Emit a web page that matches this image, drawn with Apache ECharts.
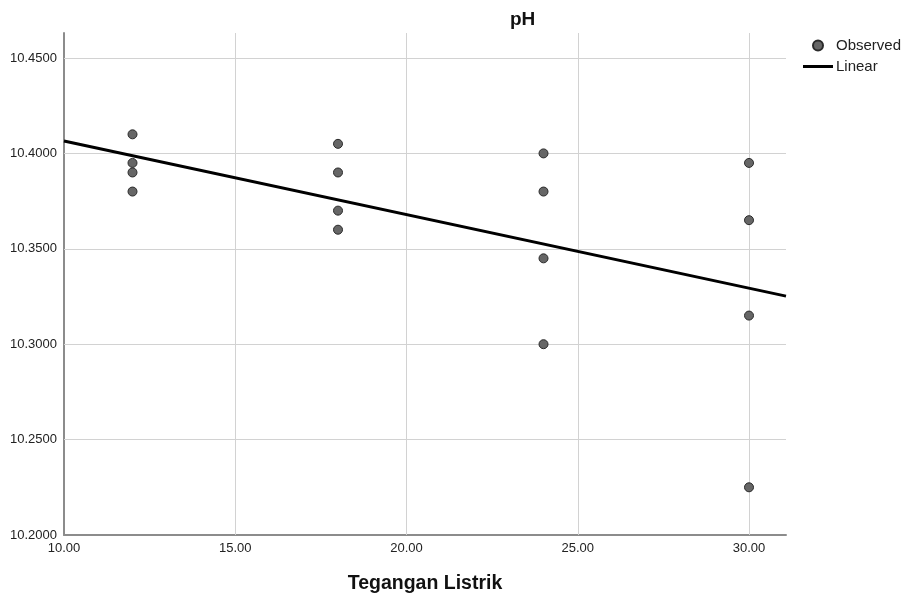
<!DOCTYPE html>
<html>
<head>
<meta charset="utf-8">
<title>pH</title>
<script src="https://cdn.jsdelivr.net/npm/echarts@6/dist/echarts.min.js"></script>
<style>
  html, body { margin: 0; padding: 0; background: #ffffff; }
  #chart { width: 907px; height: 599px; }
</style>
</head>
<body>
<div id="chart"></div>
<script>
// Observations: applied voltage (Tegangan Listrik) and measured pH
const teganganListrik = [12, 12, 12, 12, 18, 18, 18, 18, 24, 24, 24, 24, 30, 30, 30, 30];
const pHValues = [10.410, 10.395, 10.390, 10.380,
                  10.405, 10.390, 10.370, 10.360,
                  10.400, 10.380, 10.345, 10.300,
                  10.395, 10.365, 10.315, 10.225];

// Axis ranges and gridline positions
const xRange = [10, 31.08];
const yRange = [10.2, 10.4631];
const xTicks = [15, 20, 25, 30];
const yTicks = [10.25, 10.30, 10.35, 10.40, 10.45];

// Ordinary least-squares fit of pH on voltage
function linearFit(xs, ys) {
  const n = xs.length;
  const mx = xs.reduce((a, b) => a + b, 0) / n;
  const my = ys.reduce((a, b) => a + b, 0) / n;
  let sxy = 0, sxx = 0;
  for (let i = 0; i < n; i++) {
    sxy += (xs[i] - mx) * (ys[i] - my);
    sxx += (xs[i] - mx) * (xs[i] - mx);
  }
  const slope = sxy / sxx;
  return { slope, intercept: my - slope * mx };
}
const fit = linearFit(teganganListrik, pHValues);
const fitLine = xRange.map(x => [x, fit.intercept + fit.slope * x]);

const observed = teganganListrik.map((x, i) => [x, pHValues[i]]);

const FONT = "'Liberation Sans', Arial, Helvetica, sans-serif";
const axisLineStyle = { color: '#8c8c8c', width: 2 };
const gridLineStyle = { color: '#d2d2d2', width: 1, type: 'solid' };
// plain horizontal bar for the fit-line legend key (the bare moves pin a 30x10 box)
const LINE_ICON = 'path://M0,0 M30,10 M0,3.5 L30,3.5 L30,6.5 L0,6.5 Z';

const chart = echarts.init(document.getElementById('chart'), null, { renderer: 'canvas' });
chart.setOption({
  animation: false,
  backgroundColor: '#ffffff',
  textStyle: { fontFamily: FONT },
  title: {
    text: 'pH',
    left: 505,
    top: 5,
    textStyle: { fontFamily: FONT, fontSize: 19, fontWeight: 'bold', color: '#111' }
  },
  legend: {
    orient: 'vertical',
    left: 803,
    top: 38,
    padding: 0,
    itemGap: 6,
    itemWidth: 30,
    itemHeight: 10,
    textStyle: { fontFamily: FONT, fontSize: 15, color: '#222', padding: [0, 0, 0, -2] },
    data: [
      { name: 'Observed', icon: 'circle' },
      { name: 'Linear', icon: LINE_ICON }
    ]
  },
  grid: { left: 64, right: 121, top: 33, bottom: 63, containLabel: false },
  xAxis: {
    type: 'value',
    min: xRange[0],
    max: xRange[1],
    interval: 5,
    name: 'Tegangan Listrik',
    nameLocation: 'middle',
    nameGap: 39,
    nameTextStyle: { fontFamily: FONT, fontSize: 19.5, fontWeight: 'bold', color: '#111' },
    axisLine: { show: true, onZero: false, lineStyle: axisLineStyle },
    axisTick: { show: false },
    splitLine: { show: false },
    axisLabel: {
      showMaxLabel: false,
      margin: 7,
      fontFamily: FONT,
      fontSize: 13,
      color: '#222',
      formatter: v => v.toFixed(2)
    }
  },
  yAxis: {
    type: 'value',
    min: yRange[0],
    max: yRange[1],
    interval: 0.05,
    axisLine: { show: true, onZero: false, lineStyle: axisLineStyle },
    axisTick: { show: false },
    splitLine: { show: false },
    axisLabel: {
      showMaxLabel: false,
      margin: 7,
      fontFamily: FONT,
      fontSize: 13,
      color: '#222',
      formatter: v => v.toFixed(4)
    }
  },
  series: [
    {
      // reference gridlines at the labelled tick values
      type: 'line',
      name: 'grid',
      data: [],
      z: 1,
      silent: true,
      markLine: {
        z: 1,
        silent: true,
        symbol: 'none',
        label: { show: false },
        lineStyle: gridLineStyle,
        emphasis: { disabled: true },
        data: xTicks.map(v => ({ xAxis: v })).concat(yTicks.map(v => ({ yAxis: v })))
      }
    },
    {
      name: 'Linear',
      type: 'line',
      data: fitLine,
      z: 6,
      symbol: 'none',
      showSymbol: false,
      lineStyle: { color: '#000000', width: 3 },
      itemStyle: { color: '#000000' }
    },
    {
      name: 'Observed',
      type: 'scatter',
      data: observed,
      z: 8,
      symbol: 'circle',
      symbolSize: 9,
      itemStyle: { color: '#666666', borderColor: '#2a2a2a', borderWidth: 1, opacity: 1 }
    }
  ]
});
</script>
</body>
</html>
